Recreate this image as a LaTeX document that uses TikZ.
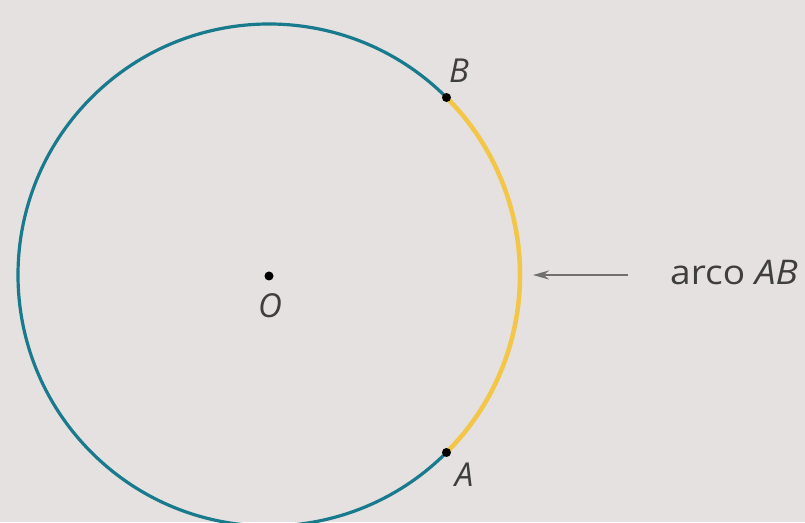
\documentclass[tikz,border=0pt]{standalone}
\usepackage{fontspec}
\setmainfont{Open Sans}
\usetikzlibrary{arrows.meta,calc}
\definecolor{bgc}{RGB}{229,225,224}
\definecolor{tealc}{RGB}{24,122,140}
\definecolor{yellc}{RGB}{243,198,72}
\definecolor{arrc}{RGB}{112,112,112}
\definecolor{txtc}{RGB}{62,62,62}
\tikzset{
  lbl/.style={font=\fontsize{33}{33}\selectfont\itshape, text=txtc, inner sep=0pt},
  txt/.style={font=\fontsize{34}{34}\selectfont, text=txtc, inner sep=0pt},
  dotpt/.style={circle, fill=black, inner sep=0pt, minimum size=9pt},
  tealarc/.style={draw=tealc, line width=3.2pt},
  yellarc/.style={draw=yellc, line width=4.5pt},
  pointer/.style={draw=arrc, line width=2pt, -{Stealth[length=16pt,width=9pt]}},
}
\begin{document}
\begin{tikzpicture}[x=1pt,y=1pt]
\fill[bgc] (0,0) rectangle (805,522);
\useasboundingbox (0,0) rectangle (805,522);
\clip (0,0) rectangle (805,522);
\coordinate (C) at (269,247);
\coordinate (B) at ($(C)+(45:251)$);
\coordinate (A) at ($(C)+(-45:251)$);
\path[tealarc] (B) arc[start angle=45, end angle=315, radius=251];
\path[yellarc] (A) arc[start angle=-45, end angle=45, radius=251];
\node[dotpt] (Bd) at (B) {};
\node[dotpt] (Ad) at (A) {};
\node[dotpt] (Od) at (269,246) {};
\node[lbl] (Bl) at (459,451.5) {B};
\node[lbl] (Al) at (464,47.5) {A};
\node[lbl] (Ol) at (270,216) {O};
\coordinate (tip) at (533,247);
\coordinate (tail) at (628,247);
\node[txt, anchor=base west] (lab) at (670,237) {\scalebox{1.09}[1]{arco \textit{AB}}};
\draw[pointer] (tail) -- (tip);
\end{tikzpicture}
\end{document}
